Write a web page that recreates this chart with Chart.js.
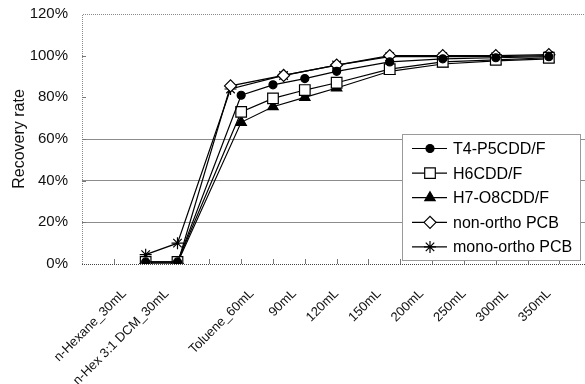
<!DOCTYPE html>
<html><head><meta charset="utf-8">
<script src="https://cdn.jsdelivr.net/npm/chart.js@4/dist/chart.umd.min.js"></script>
<style>html,body{margin:0;padding:0;background:#fff;overflow:hidden;}#wrap{width:600px;height:384px;position:relative;}</style>
</head><body><div id="wrap"><canvas id="c"></canvas></div>
<script>
// Category labels shown under the axis (slot every 40 mL units, one empty slot)
const categories = ['n-Hexane_30mL','n-Hex 3:1 DCM_30mL','','Toluene_60mL','90mL','120mL','150mL','200mL','250mL','300mL','350mL'];
// Cumulative elution volume (x values)
const cddVolumes = [60, 90, 150, 180, 210, 240, 290, 340, 390, 440];
const pcbVolumes = [60, 90, 140, 190, 240, 290, 340, 390, 440];
// Recovery rate (%)
const t4p5cdd   = [1, 1, 81, 86, 89, 92.5, 97, 98.5, 99, 99.5];
const h6cdd     = [1, 1, 73, 79.5, 83.5, 87, 93.5, 97, 98, 99];
const h7o8cdd   = [0.5, 0.5, 68, 75.5, 80, 84.5, 92.5, 96, 97.5, 98.5];
const nonOrtho  = [0, 0, 85.5, 90.5, 95.5, 100, 100, 100, 100.5];
const monoOrtho = [4.5, 10, 84, 90.5, 95.5, 99.5, 99.5, 99.5, 100];
const seriesNames = ['T4-P5CDD/F','H6CDD/F','H7-O8CDD/F','non-ortho PCB','mono-ortho PCB'];
const yTickStep = 20, yMax = 120, xStep = 30, xMax = 480, labelStep = 40;
const gridValues = [20, 40, 60];

const FONT = '"Liberation Sans", Arial, sans-serif';
function pts(xs, ys){ return xs.map((x,i)=>({x:x, y:ys[i]})); }

const styles = [
  {pointStyle:'circle',  pointRadius:4,   pointBackgroundColor:'#000'},
  {pointStyle:'rect',    pointRadius:7.5, pointBackgroundColor:'#fff'},
  {pointStyle:'triangle',pointRadius:6,   pointBackgroundColor:'#000'},
  {pointStyle:'rectRot', pointRadius:6,   pointBackgroundColor:'#fff'},
  {pointStyle:'star',    pointRadius:6,   pointBackgroundColor:'#000'}
];
const dataPairs = [[cddVolumes,t4p5cdd],[cddVolumes,h6cdd],[cddVolumes,h7o8cdd],[pcbVolumes,nonOrtho],[pcbVolumes,monoOrtho]];

const datasets = dataPairs.map((p,i)=>Object.assign({
  label: seriesNames[i],
  data: pts(p[0], p[1]),
  borderColor:'#000', borderWidth:1.2,
  pointBorderColor:'#000', pointBorderWidth:1.2,
  pointHoverRadius:0, tension:0, fill:false
}, styles[i]));

const framePlugin = {
  id:'frame',
  beforeDatasetsDraw(chart){
    const {ctx, chartArea:a, scales} = chart;
    const x = scales.x, y = scales.y;
    ctx.save();
    ctx.lineWidth = 1;
    ctx.setLineDash([1,1]);
    ctx.strokeStyle = '#8a8a8a';
    ctx.beginPath();
    ctx.moveTo(a.left+0.5, a.bottom); ctx.lineTo(a.left+0.5, a.top+0.5); ctx.lineTo(a.right, a.top+0.5);
    ctx.stroke();
    ctx.strokeStyle = '#444';
    ctx.beginPath();
    ctx.moveTo(a.left, Math.round(a.bottom)+0.5); ctx.lineTo(a.right, Math.round(a.bottom)+0.5);
    ctx.stroke();
    ctx.setLineDash([]);
    ctx.strokeStyle = '#777';
    ctx.beginPath();
    for (let v = xStep; v <= xMax; v += xStep) {
      const px = Math.round(x.getPixelForValue(v))+0.5;
      ctx.moveTo(px, a.bottom); ctx.lineTo(px, a.bottom-5);
    }
    for (let v = yTickStep; v < yMax; v += yTickStep) {
      const py = Math.round(y.getPixelForValue(v))+0.5;
      ctx.moveTo(a.left, py); ctx.lineTo(a.left+4, py);
    }
    ctx.stroke();
    ctx.restore();
  }
};

const legendPlugin = {
  id:'boxLegend',
  afterDraw(chart){
    const ctx = chart.ctx;
    const bx = 402, by = 134, bw = 178, bh = 126;
    ctx.save();
    ctx.fillStyle = '#fff';
    ctx.fillRect(bx, by, bw, bh);
    ctx.strokeStyle = '#9a9a9a'; ctx.lineWidth = 1;
    ctx.strokeRect(bx+0.5, by+0.5, bw, bh);
    chart.data.datasets.forEach((ds, i) => {
      const yy = by + 14.5 + i*24.6;
      ctx.strokeStyle = '#000'; ctx.lineWidth = 1.2;
      ctx.beginPath(); ctx.moveTo(412, yy); ctx.lineTo(447, yy); ctx.stroke();
      ctx.fillStyle = ds.pointBackgroundColor;
      Chart.helpers.drawPoint(ctx, {pointStyle: ds.pointStyle, radius: ds.pointRadius, rotation:0, borderWidth:1.2}, 430, yy);
      ctx.fillStyle = '#000';
      ctx.font = '16px ' + FONT;
      ctx.textBaseline = 'middle'; ctx.textAlign = 'left';
      ctx.fillText(ds.label, 453, yy+1);
    });
    ctx.restore();
  }
};

new Chart(document.getElementById('c'), {
  type:'line',
  data:{ datasets: datasets },
  options:{
    responsive:true, maintainAspectRatio:false, animation:false,
    layout:{ padding:{ top:14, right:3, bottom:0, left:0 } },
    plugins:{ legend:{display:false}, tooltip:{enabled:false} },
    elements:{ line:{ borderJoinStyle:'miter' } },
    scales:{
      x:{ type:'linear', min:0, max:xMax, display:false },
      x2:{ type:'linear', position:'bottom', min:0, max:xMax,
        grid:{display:false}, border:{display:false},
        afterBuildTicks:(s)=>{ const t=[]; for(let v=0; v<=xMax; v+=labelStep) t.push({value:v}); s.ticks=t; },
        afterFit:(s)=>{ s.height = 120; s.paddingLeft = 0; s.paddingRight = 0; },
        ticks:{ autoSkip:false, minRotation:45, maxRotation:45, padding:14, color:'#111',
          font:{ family:FONT, size:13 },
          callback:(v)=>{ const i = Math.round(v/labelStep)-1; return categories[i] || ''; } }
      },
      y:{ min:0, max:yMax,
        afterFit:(s)=>{ s.width = 82; s.paddingTop = 0; s.paddingBottom = 0; },
        grid:{ drawTicks:false, lineWidth:1,
          color:(c)=> gridValues.includes(c.tick && c.tick.value) ? '#8c8c8c' : 'rgba(0,0,0,0)' },
        border:{display:false},
        ticks:{ stepSize:yTickStep, padding:14, color:'#111', font:{family:FONT, size:15},
          callback:(v)=> v + '%' },
        title:{ display:true, text:'Recovery rate', color:'#111', font:{family:FONT, size:16}, padding:{top:10,bottom:0} }
      }
    }
  },
  plugins:[framePlugin, legendPlugin]
});
</script>
</body></html>
